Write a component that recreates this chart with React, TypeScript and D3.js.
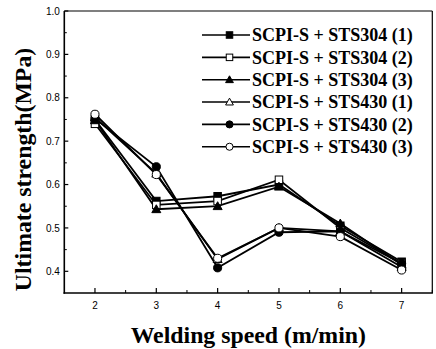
import React from "react";
import * as d3 from "d3";

const speeds = [2, 3, 4, 5, 6, 7];
const seriesNames = [
  "SCPI-S + STS304 (1)",
  "SCPI-S + STS304 (2)",
  "SCPI-S + STS304 (3)",
  "SCPI-S + STS430 (1)",
  "SCPI-S + STS430 (2)",
  "SCPI-S + STS430 (3)",
];
const sts304_1 = [0.75, 0.562, 0.573, 0.6, 0.505, 0.422];
const sts304_2 = [0.74, 0.553, 0.562, 0.611, 0.5, 0.418];
const sts304_3 = [0.748, 0.543, 0.55, 0.595, 0.51, 0.415];
const sts430_1 = [0.755, 0.625, 0.428, 0.5, 0.492, 0.41];
const sts430_2 = [0.752, 0.641, 0.408, 0.49, 0.492, 0.418];
const sts430_3 = [0.762, 0.623, 0.43, 0.5, 0.48, 0.403];
const seriesValues = [sts304_1, sts304_2, sts304_3, sts430_1, sts430_2, sts430_3];
const markerShapes = ["square", "square", "triangle", "triangle", "circle", "circle"];
const markerFilled = [true, false, true, false, true, false];
const xTicks = [2, 3, 4, 5, 6, 7];
const xMinor = [2.5, 3.5, 4.5, 5.5, 6.5, 7.5];
const yTicks = [0.4, 0.5, 0.6, 0.7, 0.8, 0.9, 1.0];
const yMinor = [0.45, 0.55, 0.65, 0.75, 0.85, 0.95];

const W = 436;
const H = 349;
const L = 64.3, R = 432.3, T = 11, B = 293;

function Marker({ shape, filled, cx, cy, s }: { shape: string; filled: boolean; cx: number; cy: number; s: number }) {
  const fill = filled ? "#000" : "#fff";
  const common = { fill, stroke: "#000", strokeWidth: 1 };
  if (shape === "square") {
    return <rect x={cx - s / 2} y={cy - s / 2} width={s} height={s} {...common} />;
  }
  if (shape === "circle") {
    return <circle cx={cx} cy={cy} r={s / 2 + 0.3} {...common} />;
  }
  const h = s * 1.0;
  const p = `${cx},${cy - h * 0.6} ${cx - s * 0.6},${cy + h * 0.45} ${cx + s * 0.6},${cy + h * 0.45}`;
  return <polygon points={p} {...common} />;
}

export default function App() {
  const x = d3.scaleLinear().domain([1.5, 7.5]).range([L, R]);
  const y = d3.scaleLinear().domain([0.35, 1.0]).range([B, T]);
  const line = d3
    .line<number>()
    .x((_, i) => x(speeds[i]))
    .y((v) => y(v));

  const legendX0 = 202, legendX1 = 250, legendMarkerX = 229.5;
  const legendY0 = 35, legendDy = 22.35;

  return (
    <svg width={W} height={H} style={{ position: "absolute", left: 0, top: 0, background: "#fff" }}>
      <rect x={0} y={0} width={W} height={H} fill="#fff" />
      {/* frame */}
      <line x1={L} y1={T} x2={R} y2={T} stroke="#000" strokeWidth={1.2} />
      <line x1={R} y1={T} x2={R} y2={B} stroke="#000" strokeWidth={1.2} />
      <line x1={L} y1={T} x2={L} y2={B + 0.8} stroke="#000" strokeWidth={1.6} />
      <line x1={L - 0.8} y1={B} x2={R + 0.6} y2={B} stroke="#000" strokeWidth={1.6} />
      {/* y ticks */}
      {yTicks.map((t) => (
        <g key={"yt" + t}>
          <line x1={L} x2={L + 4} y1={y(t)} y2={y(t)} stroke="#000" strokeWidth={1.2} />
          <text
            x={L - 4.5}
            y={y(t) + 3.6}
            textAnchor="end"
            fontFamily="Liberation Sans, Arial, sans-serif"
            fontSize={10}
          >
            {t.toFixed(1)}
          </text>
        </g>
      ))}
      {yMinor.map((t) => (
        <line key={"ym" + t} x1={L} x2={L + 2.5} y1={y(t)} y2={y(t)} stroke="#000" strokeWidth={1} />
      ))}
      {/* x ticks */}
      {xTicks.map((t) => (
        <g key={"xt" + t}>
          <line x1={x(t)} x2={x(t)} y1={B} y2={B - 5} stroke="#000" strokeWidth={1.2} />
          <text
            x={x(t)}
            y={B + 16}
            textAnchor="middle"
            fontFamily="Liberation Sans, Arial, sans-serif"
            fontSize={10}
          >
            {t}
          </text>
        </g>
      ))}
      {xMinor.map((t) => (
        <line key={"xm" + t} x1={x(t)} x2={x(t)} y1={B} y2={B - 3} stroke="#000" strokeWidth={1} />
      ))}
      {/* lines */}
      {seriesValues.map((vals, si) => (
        <path key={"l" + si} d={line(vals) || ""} fill="none" stroke="#000" strokeWidth={1.8} />
      ))}
      {/* markers */}
      {seriesValues.map((vals, si) =>
        vals.map((v, i) => (
          <Marker
            key={"m" + si + "-" + i}
            shape={markerShapes[si]}
            filled={markerFilled[si]}
            cx={x(speeds[i])}
            cy={y(v)}
            s={7.5}
          />
        ))
      )}
      {/* legend */}
      {seriesNames.map((name, si) => {
        const cy = legendY0 + si * legendDy;
        return (
          <g key={"lg" + si}>
            <line x1={legendX0} x2={legendX1} y1={cy} y2={cy} stroke="#000" strokeWidth={1.6} />
            <Marker shape={markerShapes[si]} filled={markerFilled[si]} cx={legendMarkerX} cy={cy} s={6.5} />
            <text
              x={252}
              y={cy + 6.3}
              fontFamily="Liberation Serif, Times New Roman, serif"
              fontWeight="bold"
              fontSize={18}
            >
              {name}
            </text>
          </g>
        );
      })}
      {/* axis titles */}
      <text
        x={(L + R) / 2}
        y={343}
        textAnchor="middle"
        fontFamily="Liberation Serif, Times New Roman, serif"
        fontWeight="bold"
        fontSize={23.8}
      >
        Welding speed (m/min)
      </text>
      <text
        transform={`translate(31,169.5) rotate(-90)`}
        textAnchor="middle"
        fontFamily="Liberation Serif, Times New Roman, serif"
        fontWeight="bold"
        fontSize={23.8}
      >
        Ultimate strength(MPa)
      </text>
    </svg>
  );
}
